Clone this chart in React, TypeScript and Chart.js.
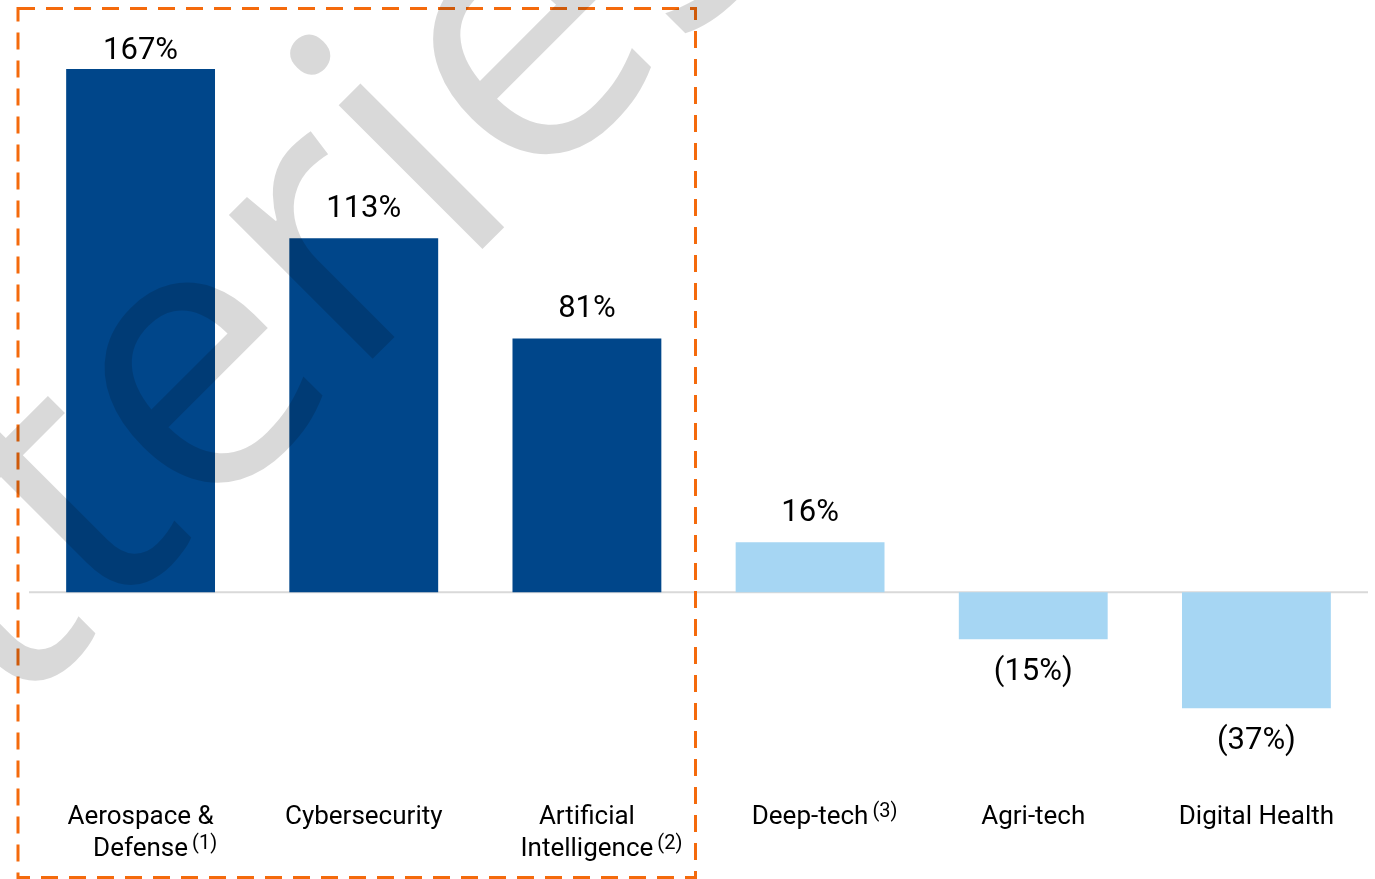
import React, { useEffect, useRef } from "react";
import { Chart, registerables } from "chart.js";

Chart.register(...registerables);

const categories: string[][] = [
  ["Aerospace &", "Defense"],
  ["Cybersecurity"],
  ["Artificial", "Intelligence"],
  ["Deep-tech"],
  ["Agri-tech"],
  ["Digital Health"],
];
const footnotes = ["(1)", "", "(2)", "(3)", "", ""];
const values = [167, 113, 81, 16, -15, -37];
const valueLabels = ["167%", "113%", "81%", "16%", "(15%)", "(37%)"];
const barColors = ["#00468a", "#00468a", "#00468a", "#a6d6f3", "#a6d6f3", "#a6d6f3"];
const highlightedCount = 3;
const watermarkText = "Batteries";

const overlayPlugin = {
  id: "overlay",
  beforeDatasetsDraw(chart: any) {
    const { ctx, chartArea, scales } = chart;
    const y0 = scales.y.getPixelForValue(0);
    ctx.save();
    ctx.strokeStyle = "#d9d9d9";
    ctx.lineWidth = 2;
    ctx.beginPath();
    ctx.moveTo(chartArea.left, y0);
    ctx.lineTo(chartArea.right, y0);
    ctx.stroke();
    ctx.restore();
  },
  afterDatasetsDraw(chart: any) {
    const { ctx, chartArea, scales } = chart;
    const meta = chart.getDatasetMeta(0);
    ctx.save();
    // value labels
    ctx.fillStyle = "#000";
    ctx.font = "31px Roboto";
    ctx.textAlign = "center";
    ctx.textBaseline = "middle";
    meta.data.forEach((bar: any, i: number) => {
      const { x, y } = bar.getProps(["x", "y"], true);
      let ty: number;
      if (values[i] >= 0) ty = Math.max(y - 29, chartArea.top + 7);
      else ty = y + 33;
      ctx.fillText(valueLabels[i], x, ty);
    });
    // category labels
    const lineY = [817, 849];
    categories.forEach((lines, i) => {
      const cx = scales.x.getPixelForValue(i);
      lines.forEach((ln, j) => {
        ctx.font = "26px Roboto";
        ctx.textAlign = "center";
        ctx.fillText(ln, cx, lineY[j]);
        if (j === lines.length - 1 && footnotes[i]) {
          const w = ctx.measureText(ln).width;
          ctx.font = "20px Roboto";
          ctx.textAlign = "left";
          ctx.fillText(footnotes[i], cx + w / 2 + 4, lineY[j] - 5);
        }
      });
    });
    // dashed highlight box
    const step = scales.x.getPixelForValue(1) - scales.x.getPixelForValue(0);
    const left = scales.x.getPixelForValue(0) - step / 2 - 11;
    const right = scales.x.getPixelForValue(highlightedCount - 1) + step / 2 - 3;
    ctx.strokeStyle = "#f46a0c";
    ctx.lineWidth = 3;
    ctx.setLineDash([17, 11]);
    ctx.strokeRect(left, 8.5, right - left, 869);
    ctx.setLineDash([]);
    // watermark
    const S = 380;
    ctx.font = `${S}px 'Open Sans'`;
    ctx.textAlign = "left";
    ctx.textBaseline = "alphabetic";
    ctx.fillStyle = "rgba(0,0,0,0.15)";
    const a = (-45 * Math.PI) / 180;
    const pre = ctx.measureText("Batt").width;
    const ew = ctx.measureText("e").width;
    const vx = pre + ew / 2;
    const vy = -0.28 * S;
    const tx = 199, ty2 = 382;
    const ox = tx - (vx * Math.cos(a) - vy * Math.sin(a));
    const oy = ty2 - (vx * Math.sin(a) + vy * Math.cos(a));
    ctx.translate(ox, oy);
    ctx.rotate(a);
    ctx.fillText(watermarkText, 0, 0);
    ctx.restore();
  },
};

export default function App() {
  const ref = useRef<HTMLCanvasElement>(null);
  useEffect(() => {
    if (!ref.current) return;
    const chart = new Chart(ref.current, {
      type: "bar",
      data: {
        labels: categories.map((c) => c.join(" ")),
        datasets: [
          {
            data: values,
            backgroundColor: barColors,
            borderWidth: 0,
            barPercentage: 0.667,
            categoryPercentage: 1,
          },
        ],
      },
      options: {
        animation: false,
        responsive: true,
        maintainAspectRatio: false,
        layout: { padding: { left: 29, right: 7, top: 44, bottom: 36 } },
        plugins: { legend: { display: false }, tooltip: { enabled: false } },
        scales: {
          x: { display: false, grid: { display: false } },
          y: { display: false, min: -80, max: 175, grid: { display: false } },
        },
      },
      plugins: [overlayPlugin],
    });
    return () => chart.destroy();
  }, []);
  return (
    <div style={{ position: "absolute", left: 0, top: 0, width: 1375, height: 879, background: "#fff" }}>
      <canvas ref={ref} />
    </div>
  );
}
